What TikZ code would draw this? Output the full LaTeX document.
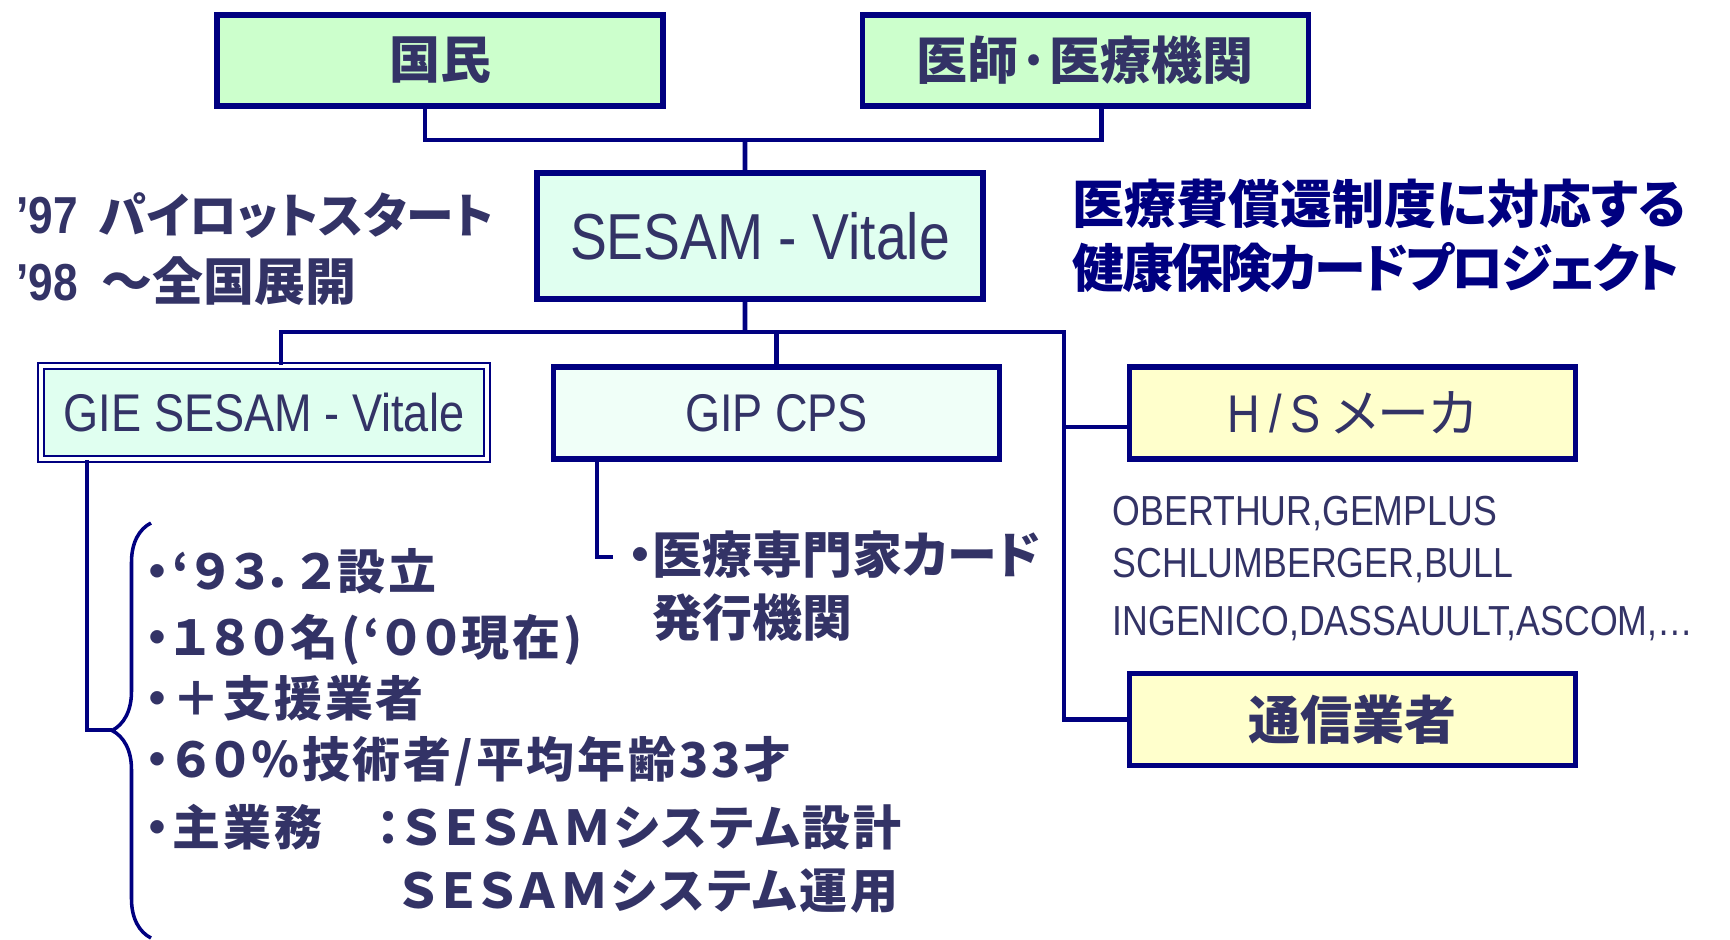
\documentclass[tikz,border=0pt]{standalone}
\usepackage{fontspec}
\usepackage{xcolor}
\usepackage{tikz}
\usetikzlibrary{positioning, calc, decorations.pathreplacing}
\setmainfont{Liberation Sans}
\newfontfamily\jpface[RawFeature=+palt]{Noto Sans CJK JP}
\newfontfamily\latface[FakeStretch=0.85]{Liberation Sans}
\newcommand{\jpfont}[1]{\jpface\bfseries\fontsize{#1}{#1}\selectfont}
\newcommand{\latfont}[1]{\latface\fontsize{#1}{#1}\selectfont}
\definecolor{navy}{HTML}{000080}
\definecolor{ink}{HTML}{333366}
\definecolor{mint}{HTML}{CCFFCC}
\definecolor{palemint}{HTML}{E0FFF0}
\definecolor{paleaqua}{HTML}{F0FFF8}
\definecolor{cream}{HTML}{FFFFCC}
\tikzstyle{box} = [rectangle, draw=navy, line width=1.5pt, text=ink, inner sep=0pt, minimum width=44.6mm, minimum height=9.2mm]
\tikzstyle{topbox} = [box, fill=mint, minimum height=9.1mm, font={\jpfont{14.5}}]
\tikzstyle{sesambox} = [box, fill=palemint, minimum height=12.6mm, font={\latfont{18.5}}]
\tikzstyle{giebox} = [box, fill=palemint, line width=0.55pt, double=white, double distance=1.05pt, minimum height=9.3mm, font={\latfont{15.1}}]
\tikzstyle{gipbox} = [box, fill=paleaqua, font={\latfont{15.1}}]
\tikzstyle{partnerbox} = [box, fill=cream, font={\jpfont{14.8}}]
\tikzstyle{conn} = [draw=navy, line width=1.4pt]
\tikzstyle{thinconn} = [draw=navy, line width=1pt]
\tikzstyle{note} = [anchor=base west, inner sep=0pt, text=ink]
\tikzstyle{fact} = [note, font={\jpfont{13.65}\addfontfeature{LetterSpace=6}}]
\tikzstyle{title} = [note, text=navy, font={\jpfont{14.8}}]
\tikzstyle{company} = [note, font={\latfont{11.95}}]

\begin{document}
\begin{tikzpicture}[x=0.1mm, y=-0.1mm]
  \useasboundingbox (0,0) rectangle (1730,940);
  % boxes
  \node (kokumin) [topbox] at (440,60.5) {国民};
  \node (ishi) [topbox, right=19.4mm of kokumin] {医師·医療機関};
  \node (sesam) [sesambox] at (760,236) {SESAM - Vitale};
  \node (gie) [giebox] at (264,412.5) {GIE SESAM - Vitale};
  \node (gip) [gipbox] at (776.5,413) {GIP CPS};
  \node (hs) [partnerbox] at (1352.5,413) {\mdseries{\latfont{15.1}H\,/\,S} メーカ};
  \node (tsushin) [partnerbox, below=20.9mm of hs] {通信業者};

  % notes
  \node (pilot) [note, font={\jpfont{13.6}}] at (16,233) {{\latfont{14.8}’97}\hspace{1mm} パイロットスタート};
  \node (rollout) [note, font={\jpfont{14.5}}] at ([yshift=-6.7mm]pilot.base west) {{\latfont{14.8}’98 }\hspace{1.1mm}～全国展開};
  \node (title1) [title] at (1072,223) {医療費償還制度に対応する};
  \node (title2) [title] at ([yshift=-6.4mm]title1.base west) {\addfontfeature{LetterSpace=-5.3}健康保険カードプロジェクト};
  \node (card1) [note, font={\jpfont{14.2}}] at (627,573) {・医療専門家カード};
  \node (card2) [note, font={\jpfont{14.2}}] at ([yshift=-6.3mm]card1.base west) {\phantom{・}発行機関};
  \node (vendors1) [company] at (1112,525) {OBERTHUR,GEMPLUS};
  \node (vendors2) [company] at ([yshift=-5.2mm]vendors1.base west) {SCHLUMBERGER,BULL};
  \node (vendors3) [company] at ([yshift=-5.8mm]vendors2.base west) {INGENICO,DASSAUULT,ASCOM,…};

  % GIE facts
  \node (fact1) [fact] at (145,589) {・‘９３．２設立};
  \node (fact2) [fact] at ([yshift=-6.6mm]fact1.base west) {・１８０名(‘００現在)};
  \node (fact3) [fact] at ([yshift=-6.1mm]fact2.base west) {・＋支援業者};
  \node (fact4) [fact] at ([yshift=-6.1mm]fact3.base west) {・６０％技術者/平均年齢33才};
  \node (fact5) [fact] at ([yshift=-6.8mm]fact4.base west) {・主業務　：ＳＥＳＡＭシステム設計};
  \node (fact6) [fact] at ([yshift=-6.3mm]fact5.base west) {\phantom{・主業務　：}ＳＥＳＡＭシステム運用};

  % connectors
  \coordinate (topbar) at (745,140);
  \coordinate (midbar) at (745,332);
  \coordinate (rightbar) at (1064,332);
  \coordinate (cardend) at (613,557);
  \coordinate (bracetip) at (112,730);
  \draw[conn] ([xshift=-1.5mm]kokumin.south) |- (topbar) -| ([xshift=1.6mm]ishi.south);
  \draw[conn] (topbar) -- ([xshift=-1.5mm]sesam.north);
  \draw[conn] ([xshift=-1.5mm]sesam.south) -- (midbar);
  \draw[conn] ([xshift=1.7mm]gie.north) |- (rightbar) |- (tsushin.west);
  \draw[conn] (gip.north) -- (gip.north |- midbar);
  \draw[conn] ([yshift=-1.4mm]hs.west) -| (rightbar);
  \draw[thinconn] ([xshift=4.6mm]gip.south west) |- (cardend);
  \draw[thinconn] ([xshift=4.7mm]gie.south west) |- (bracetip);
  \draw[thinconn, decorate, decoration={brace, amplitude=3.9mm}] (151,938) -- (151,523);
\end{tikzpicture}
\end{document}
